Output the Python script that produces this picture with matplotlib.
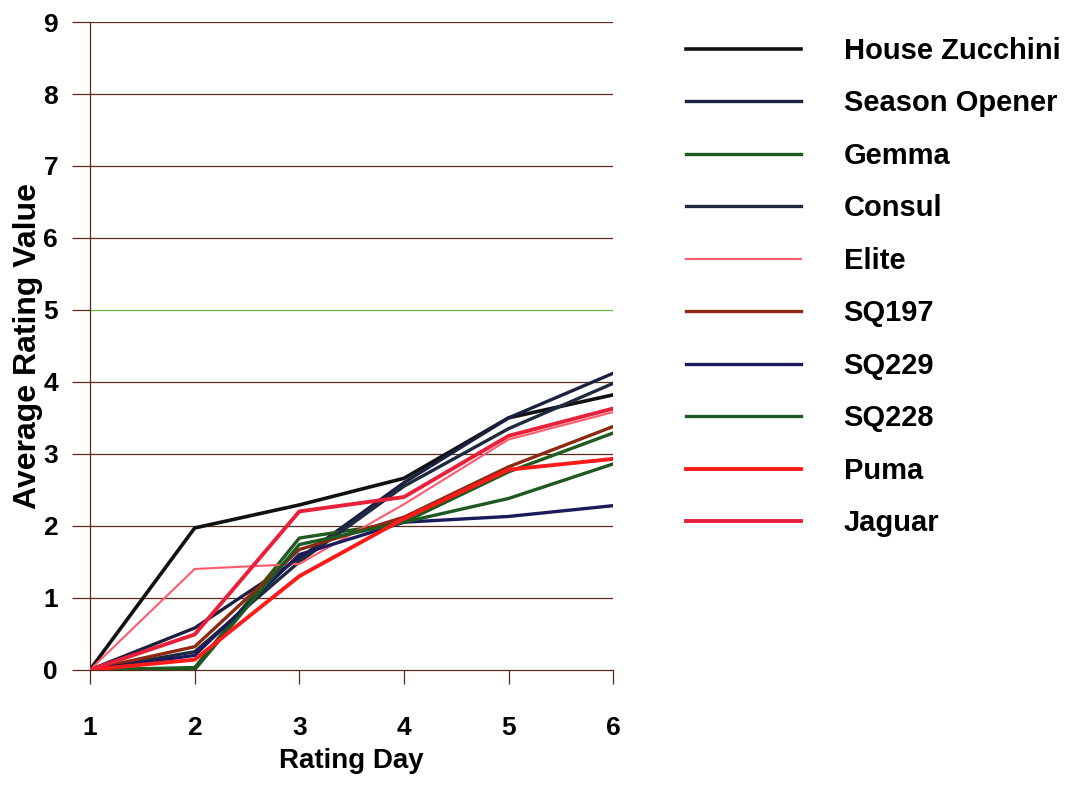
import matplotlib
matplotlib.use("Agg")
from matplotlib import pyplot as plt

plt.rcParams['font.family'] = ['Liberation Sans', 'DejaVu Sans']
plt.rcParams['font.weight'] = 'bold'

# rating days and average ratings per variety
days = [1, 2, 3, 4, 5, 6]
house_zucchini = [0, 1.97, 2.29, 2.66, 3.50, 3.82]
season_opener = [0, 0.58, 1.55, 2.60, 3.50, 4.12]
gemma = [0, 0.03, 1.83, 2.05, 2.75, 3.29]
consul = [0, 0.25, 1.50, 2.55, 3.35, 3.98]
elite = [0, 1.40, 1.47, 2.30, 3.20, 3.58]
sq197 = [0, 0.32, 1.67, 2.12, 2.82, 3.38]
sq229 = [0, 0.20, 1.60, 2.05, 2.13, 2.28]
sq228 = [0, 0.00, 1.74, 2.05, 2.38, 2.86]
puma = [0, 0.14, 1.30, 2.10, 2.78, 2.93]
jaguar = [0, 0.49, 2.20, 2.40, 3.25, 3.63]

names = ["House Zucchini", "Season Opener", "Gemma", "Consul", "Elite",
         "SQ197", "SQ229", "SQ228", "Puma", "Jaguar"]
series = [house_zucchini, season_opener, gemma, consul, elite,
          sq197, sq229, sq228, puma, jaguar]
colors = ["#111111", "#1c2040", "#1f5a1f", "#1e2a3e", "#ff5a6e",
          "#8b2a10", "#1a1a5c", "#1d5a22", "#ff1a1a", "#e8203a"]
widths = [2.6, 2.4, 2.4, 2.4, 1.5, 2.4, 2.4, 2.4, 2.8, 2.8]

fig = plt.figure(figsize=(10.81, 7.87), dpi=100)
ax = fig.add_axes([0.0833, 0.149, 0.484, 0.823])

grid_color = "#5a2a1a"
for y in range(1, 10):
    ax.axhline(y, color="#66bb44" if y == 5 else grid_color, lw=0.9, zorder=1)

for name, vals, c, w in zip(names, series, colors, widths):
    ax.plot(days, vals, color=c, lw=w, label=name, zorder=3)

ax.set_xlim(1, 6)
ax.set_ylim(0, 9)
ax.set_xticks(days)
ax.set_yticks(range(0, 10))
ax.spines['top'].set_visible(False)
ax.spines['right'].set_visible(False)
ax.spines['left'].set_color(grid_color)
ax.spines['bottom'].set_color(grid_color)
ax.spines['left'].set_linewidth(0.9)
ax.spines['bottom'].set_linewidth(0.9)
ax.tick_params(axis='y', length=13, width=0.9, color=grid_color, labelsize=19, pad=10)
ax.tick_params(axis='x', length=10, width=0.9, color=grid_color, labelsize=19, pad=23)
for lab in ax.get_xticklabels() + ax.get_yticklabels():
    lab.set_fontweight('bold')

ax.set_xlabel("Rating Day", fontsize=20, fontweight='bold', labelpad=6)
ax.set_ylabel("Average Rating Value", fontsize=23, fontweight='bold', labelpad=0)

fig.legend(loc='upper left', bbox_to_anchor=(0.6236, 0.968), frameon=False,
           fontsize=21, handlelength=3.94, handletextpad=1.47,
           labelspacing=0.84, borderaxespad=0)

fig.savefig("out.png", dpi=100)
